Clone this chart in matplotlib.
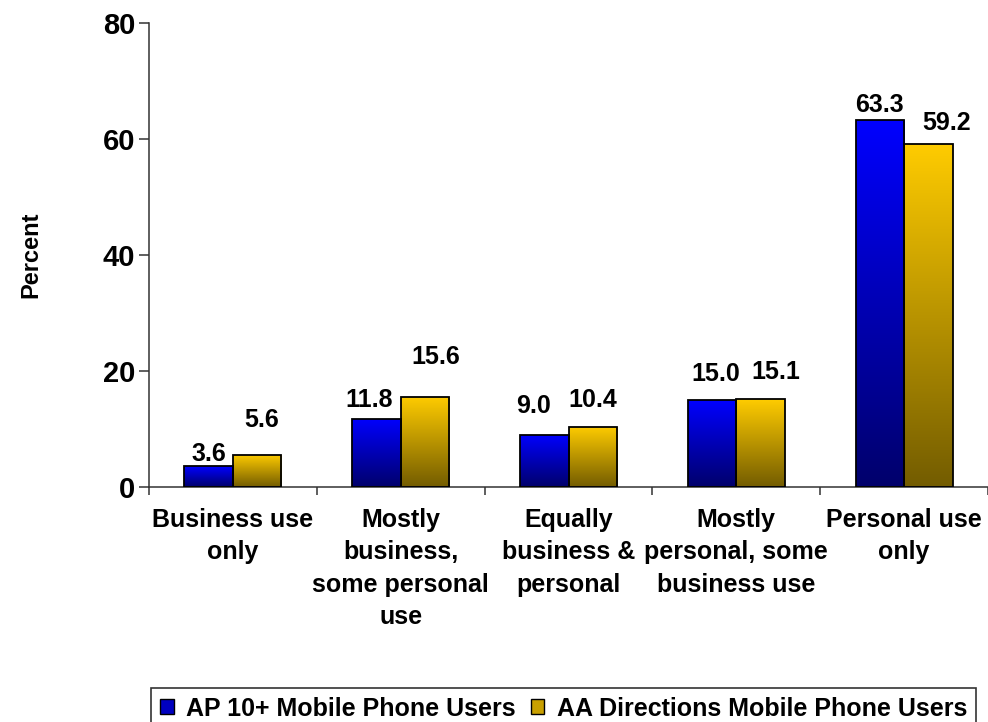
import numpy as np
import matplotlib
matplotlib.use("Agg")
import matplotlib.pyplot as plt
from matplotlib.colors import LinearSegmentedColormap
from matplotlib.patches import Patch

plt.rcParams['font.family'] = ['Liberation Sans', 'DejaVu Sans']
plt.rcParams['font.weight'] = 'bold'

categories = ["Business use\nonly", "Mostly\nbusiness,\nsome personal\nuse",
              "Equally\nbusiness &\npersonal", "Mostly\npersonal, some\nbusiness use",
              "Personal use\nonly"]
series_names = ["AP 10+ Mobile Phone Users", "AA Directions Mobile Phone Users"]
ap_values = [3.6, 11.8, 9.0, 15.0, 63.3]
aa_values = [5.6, 15.6, 10.4, 15.1, 59.2]
y_ticks = [0, 20, 40, 60, 80]

# label nudges (pixels) relative to bar centre / bar top
ap_label_nudge = [(0, 12.5), (-7, 18.5), (-11, 29), (4, 26), (0, 15)]
aa_label_nudge = [(5, 35), (11, 40), (0, 27), (15, 27), (18, 21)]

blue_cmap = LinearSegmentedColormap.from_list("blue", ["#00006B", "#0000FF"])
gold_cmap = LinearSegmentedColormap.from_list("gold", ["#735C00", "#FFCC00"])

fig = plt.figure(figsize=(9.88, 7.22), dpi=100)
ax = fig.add_axes([149 / 988, 1 - 487 / 722, 1 - 149 / 988, (487 - 23) / 722])

x = np.arange(len(categories))
width = 0.289
grad = np.linspace(0, 1, 256).reshape(-1, 1)


def gradient_bars(xpos, values, cmap, nudges):
    bars = ax.bar(xpos, values, width, align='edge', facecolor='none',
                  edgecolor='black', linewidth=1.3, zorder=3)
    for bar, val, (dx, dy) in zip(bars, values, nudges):
        x0 = bar.get_x()
        x1 = x0 + bar.get_width()
        im = ax.imshow(grad, extent=[x0, x1, 0, val], origin='lower',
                       aspect='auto', cmap=cmap, zorder=2)
        im.set_clip_path(bar)
        ax.annotate(f"{val:.1f}", (x0 + bar.get_width() / 2, val),
                    xytext=(dx * 0.72, dy * 0.72), textcoords='offset points',
                    ha='center', va='center', fontsize=18, fontweight='bold')
    return bars


gradient_bars(x - width, ap_values, blue_cmap, ap_label_nudge)
gradient_bars(x, aa_values, gold_cmap, aa_label_nudge)

ax.set_xlim(-0.5, len(categories) - 0.5)
ax.set_ylim(0, 80)
ax.set_yticks(y_ticks)
ax.tick_params(axis='y', direction='out', length=7, width=1.1, pad=3,
               labelsize=21, color='#333333')
ax.set_xticks(x)
ax.set_xticklabels(categories, fontsize=18, fontweight='bold', linespacing=1.45)
ax.tick_params(axis='x', which='major', length=0, pad=15)
ax.set_xticks(np.arange(len(categories) + 1) - 0.5, minor=True)
ax.tick_params(axis='x', which='minor', direction='out', length=6, width=1.1,
               color='#333333')

for side in ['top', 'right']:
    ax.spines[side].set_visible(False)
for side in ['left', 'bottom']:
    ax.spines[side].set_color('#333333')
    ax.spines[side].set_linewidth(1.1)

ax.set_ylabel("Percent", fontsize=17, fontweight='bold')
ax.yaxis.set_label_coords(-0.127, 0.5)

handles = [Patch(facecolor="#0000C0", edgecolor='black', linewidth=1),
           Patch(facecolor="#C9A000", edgecolor='black', linewidth=1)]
leg = fig.legend(handles, series_names, loc='upper left',
                 bbox_to_anchor=(151 / 988, 1 - 688 / 722), ncol=2,
                 fontsize=18, frameon=True, fancybox=False,
                 handlelength=0.55, handleheight=0.55, handletextpad=0.5,
                 columnspacing=0.6, borderpad=0.35, borderaxespad=0)
leg.get_frame().set_edgecolor('black')
leg.get_frame().set_linewidth(1.2)
for t in leg.get_texts():
    t.set_fontweight('bold')

fig.savefig("out.png", dpi=100)
